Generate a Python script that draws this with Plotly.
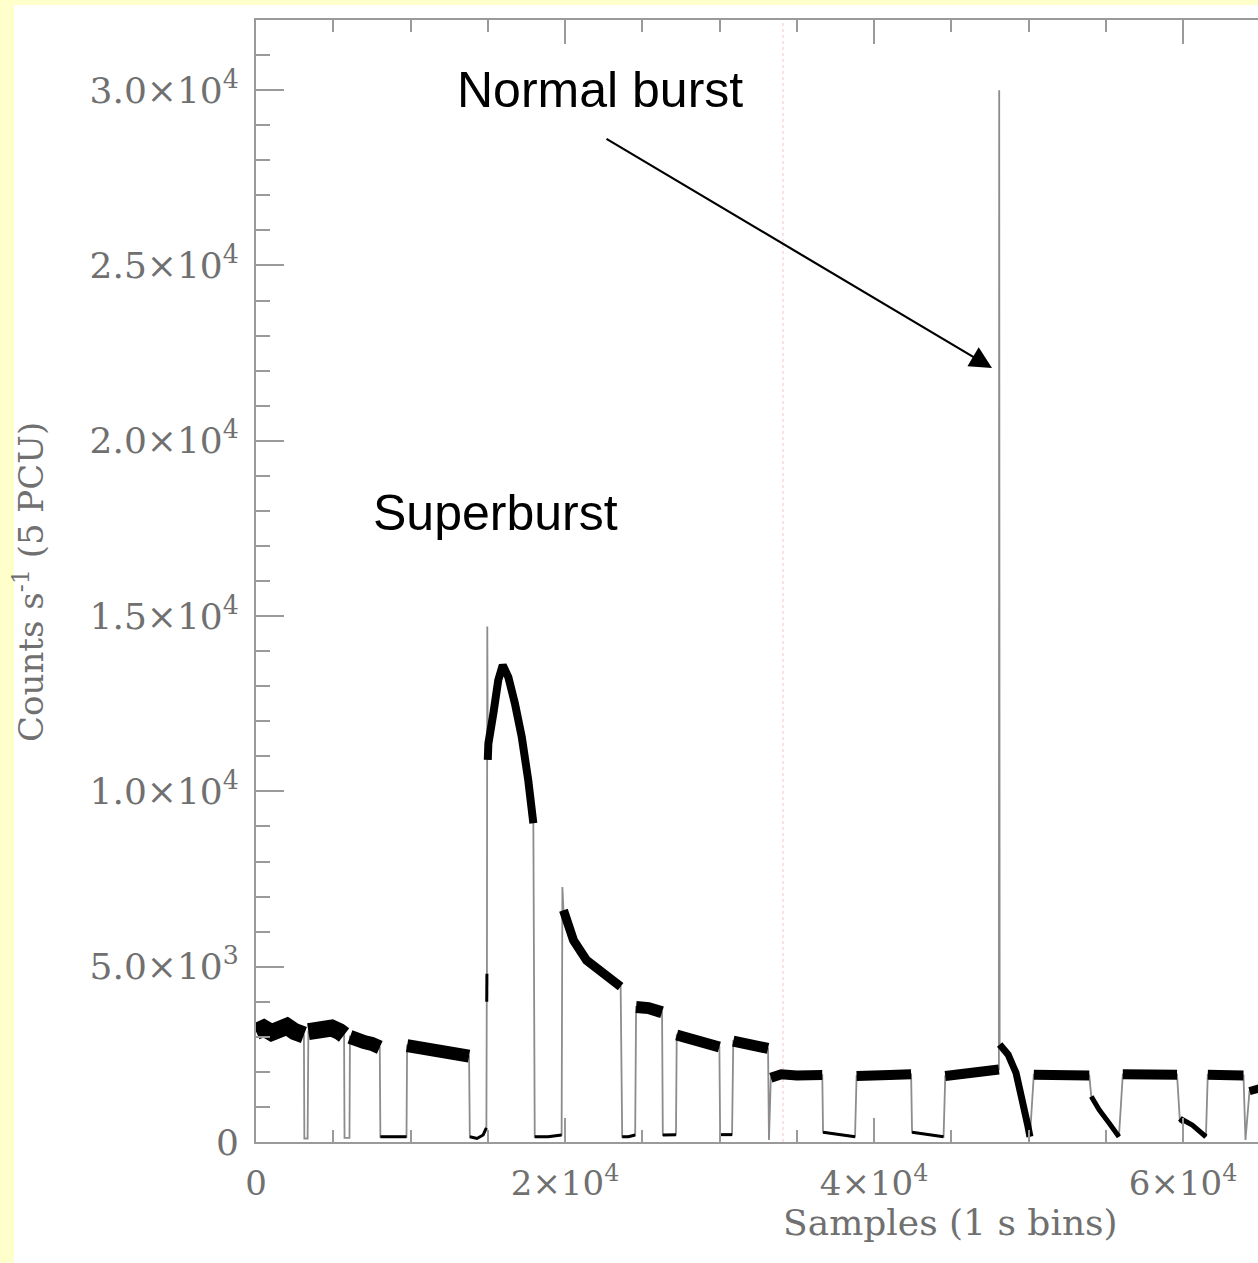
import plotly.graph_objects as go

# ---------------- data ----------------
time_s = [
    0, 500, 1000, 1500, 2000, 2500, 3100,
    3130, 3340,
    3390, 3900, 4400, 4900, 5400, 5700,
    5730, 6050,
    6080, 6500, 7000, 7500, 8010,
    8050, 9000, 9740,
    9780, 10500, 11300, 12100, 12900, 13790,
    13840, 14300, 14700, 14910,
    14935, 14945,
    14970,
    15000, 15040, 15360, 15680, 15970, 16330, 16760, 17200, 17620, 17950,
    18040, 18900, 19780,
    19830,
    19900, 20550, 21400, 22480, 23600,
    23700, 24100, 24540,
    24600, 25400, 26280,
    26330, 26800, 27180,
    27230, 28000, 29000, 29990,
    30040, 30400, 30810,
    30890, 32000, 33140,
    33200,
    33320, 34000, 35000, 36000, 36650,
    36700, 37700, 38770,
    38870, 39800, 41000, 42400,
    42460, 43500, 44500,
    44610, 45800, 47000, 48080,
    48100,
    48130, 48680, 49190, 49580, 49960, 50090,
    50340, 51500, 52800, 53930,
    54060, 54570, 55210, 55850,
    56100, 57500, 58700, 59610,
    59800, 59950, 60600, 61480,
    61600, 62800, 63910,
    64040,
    64300, 64900, 65500,
]
counts = [
    3150, 3250, 3120, 3200, 3300, 3150, 3050,
    100, 100,
    3150, 3200, 3300, 3250, 3150, 3050,
    120, 120,
    3000, 2900, 2850, 2800, 2700,
    150, 150, 150,
    2750, 2700, 2650, 2580, 2600, 2450,
    150, 100, 200, 400,
    4000, 4800,
    14700,
    10900, 11365, 12220, 13170, 13600, 13260, 12500, 11550, 10320, 9090,
    150, 150, 200,
    7270,
    6610, 5750, 5180, 4800, 4430,
    150, 150, 200,
    3850, 3820, 3700,
    200, 200, 210,
    3050, 2950, 2800, 2710,
    210, 200, 210,
    2880, 2780, 2670,
    60,
    1830, 1930, 1900, 1920, 1910,
    280, 220, 150,
    1880, 1920, 1910, 1930,
    280, 210, 150,
    1880, 1950, 1980, 2070,
    30000,
    2780, 2490, 1970, 1300, 450, 150,
    1920, 1920, 1910, 1900,
    1300, 920, 540, 150,
    1930, 1920, 1920, 1920,
    560, 640, 480, 150,
    1920, 1930, 1900,
    60,
    1450, 1550, 1600,
]
# segment id of each sample (0 = transition sample only)
segment = [
    1, 1, 1, 1, 1, 1, 1,
    0, 0,
    2, 2, 2, 2, 2, 2,
    0, 0,
    3, 3, 3, 3, 3,
    4, 4, 4,
    5, 5, 5, 5, 5, 5,
    6, 6, 6, 6,
    7, 7,
    0,
    8, 8, 8, 8, 8, 8, 8, 8, 8, 8,
    9, 9, 9,
    0,
    10, 10, 10, 10, 10,
    11, 11, 11,
    12, 12, 12,
    13, 13, 13,
    14, 14, 14, 14,
    15, 15, 15,
    16, 16, 16,
    0,
    17, 17, 17, 17, 17,
    18, 18, 18,
    19, 19, 19, 19,
    20, 20, 20,
    21, 21, 21, 21,
    0,
    22, 22, 22, 22, 22, 22,
    23, 23, 23, 23,
    24, 24, 24, 24,
    25, 25, 25, 25,
    26, 26, 26, 26,
    27, 27, 27,
    0,
    28, 28, 28,
]

y_tick_vals = [0, 5000, 10000, 15000, 20000, 25000, 30000]
y_tick_text = ["0", "5.0×10<sup>3</sup>", "1.0×10<sup>4</sup>", "1.5×10<sup>4</sup>",
               "2.0×10<sup>4</sup>", "2.5×10<sup>4</sup>", "3.0×10<sup>4</sup>"]
x_tick_vals = [0, 20000, 40000, 60000]
x_tick_text = ["0", "2×10<sup>4</sup>", "4×10<sup>4</sup>", "6×10<sup>4</sup>"]

# ---------------- style ----------------
W, H = 1258, 1263
ML, MR, MT, MB = 256, 0, 20, 121
PW, PH = W - ML - MR, H - MT - MB

def px(x):
    return (x - ML) / PW

def py(y):
    return (H - MB - y) / PH

seg_width = {1: 17, 2: 17, 3: 14, 4: 3, 5: 13, 6: 3, 7: 3, 8: 8, 9: 3, 10: 9,
             11: 3, 12: 12, 13: 3, 14: 11, 15: 3, 16: 11, 17: 10, 18: 3, 19: 10,
             20: 3, 21: 10, 22: 7, 23: 10, 24: 5, 25: 10, 26: 5, 27: 10, 28: 8}

AX = "#9a9a9a"
TXT = "#707070"
SERIF = "DejaVu Serif"

fig = go.Figure()

# thin grey line joining every sample
fig.add_trace(go.Scatter(x=time_s, y=counts, mode="lines",
                         line=dict(color="#8c8c8c", width=1.8),
                         hoverinfo="skip", showlegend=False))

# black noisy data bands
for sid in sorted(set(segment)):
    if sid == 0:
        continue
    xs = [t for t, s in zip(time_s, segment) if s == sid]
    ys = [c for c, s in zip(counts, segment) if s == sid]
    fig.add_trace(go.Scatter(x=xs, y=ys, mode="lines",
                             line=dict(color="#000000", width=seg_width[sid]),
                             showlegend=False))

fig.update_layout(
    width=W, height=H, autosize=False,
    margin=dict(l=ML, r=MR, t=MT, b=MB, pad=0),
    paper_bgcolor="#FFFFCC",
    plot_bgcolor="#FFFFFF",
    showlegend=False,
    shapes=[
        dict(type="rect", xref="paper", yref="paper", layer="below",
             x0=px(14), x1=px(W + 20), y0=py(H + 20), y1=py(5),
             fillcolor="#FFFFFF", line=dict(width=0)),
        dict(type="line", xref="paper", yref="paper", layer="below",
             x0=px(783), x1=px(783), y0=0, y1=1,
             line=dict(color="rgba(240,150,150,0.55)", width=1, dash="dot")),
    ],
)

fig.update_xaxes(
    range=[0, 64850], showgrid=False, zeroline=False,
    showline=True, linecolor=AX, linewidth=2, mirror="ticks",
    ticks="inside", ticklen=24, tickwidth=2, tickcolor=AX,
    tickmode="array", tickvals=x_tick_vals, ticktext=x_tick_text,
    tickfont=dict(family=SERIF, size=34, color=TXT),
    ticklabelstandoff=10,
    minor=dict(ticks="inside", ticklen=12, tickwidth=2, tickcolor=AX,
               tickmode="linear", tick0=0, dtick=5000, showgrid=False),
)
fig.update_yaxes(
    range=[0, 32000], showgrid=False, zeroline=False,
    showline=True, linecolor=AX, linewidth=2, mirror=False,
    ticks="inside", ticklen=28, tickwidth=2, tickcolor=AX,
    tickmode="array", tickvals=y_tick_vals, ticktext=y_tick_text,
    tickfont=dict(family=SERIF, size=36, color=TXT),
    ticklabelstandoff=8,
    minor=dict(ticks="inside", ticklen=14, tickwidth=2, tickcolor=AX,
               tickmode="linear", tick0=0, dtick=1000, showgrid=False),
)

annos = [
    dict(text="Samples (1 s bins)", xref="paper", yref="paper",
         x=px(950), y=py(1222), xanchor="center", yanchor="middle",
         showarrow=False, font=dict(family=SERIF, size=36, color=TXT)),
    dict(text="Counts s<sup>-1</sup> (5 PCU)", xref="paper", yref="paper",
         x=px(29), y=py(582), xanchor="center", yanchor="middle",
         textangle=-90, showarrow=False,
         font=dict(family=SERIF, size=34, color=TXT)),
    dict(text="Normal burst", xref="paper", yref="paper",
         x=px(600), y=py(90), xanchor="center", yanchor="middle",
         showarrow=False, font=dict(family="Liberation Sans", size=50, color="#000000")),
    dict(text="Superburst", xref="paper", yref="paper",
         x=px(495), y=py(513), xanchor="center", yanchor="middle",
         showarrow=False, font=dict(family="Liberation Sans", size=50, color="#000000")),
    dict(text="", xref="paper", yref="paper",
         x=px(992), y=py(368), axref="pixel", ayref="pixel",
         ax=605 - 992, ay=138 - 368,
         showarrow=True, arrowhead=2, arrowsize=2, arrowwidth=2.2,
         arrowcolor="#000000", standoff=0, startstandoff=0),
]
fig.update_layout(annotations=annos)

fig.write_html("out.html")
